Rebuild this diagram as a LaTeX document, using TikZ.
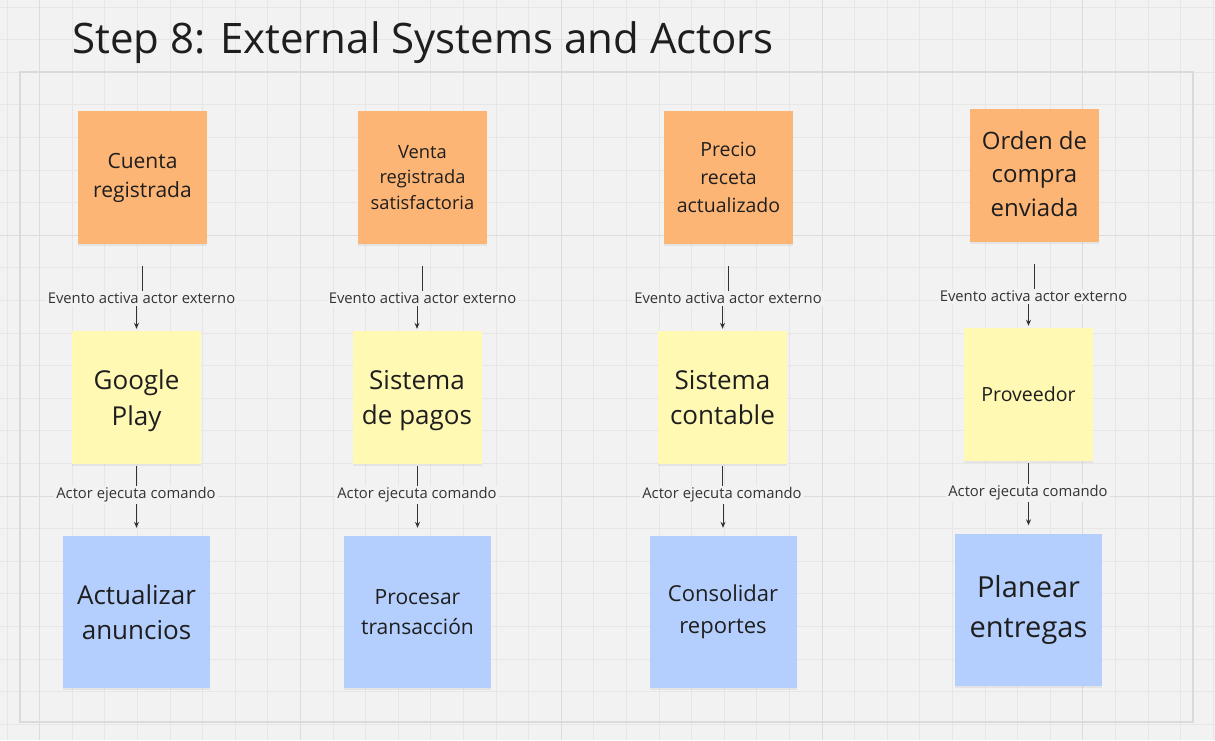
\documentclass[tikz,border=0pt]{standalone}
\usepackage{fontspec}
\setmainfont{Open Sans}
\usetikzlibrary{arrows.meta,shadows}
\pgfdeclarelayer{grid}
\pgfdeclarelayer{links}
\pgfsetlayers{grid,links,main}
\definecolor{bgc}{HTML}{F2F2F2}
\definecolor{minorc}{HTML}{E6E6E6}
\definecolor{majorc}{HTML}{DCDCDC}
\definecolor{framec}{HTML}{DADADA}
\definecolor{orangec}{HTML}{FDB576}
\definecolor{yellowc}{HTML}{FFF9B3}
\definecolor{bluec}{HTML}{B4CFFD}
\definecolor{txtc}{HTML}{1E1E1E}
\definecolor{lblc}{HTML}{333333}
\definecolor{connc}{HTML}{333333}
\newcommand{\fsz}[2]{\fontsize{#1}{#2}\selectfont}
\tikzset{
  note/.style={minimum width=129pt, minimum height=133pt, inner sep=0pt,
    align=center, text=txtc,
    drop shadow={shadow xshift=0pt, shadow yshift=-2pt, opacity=0.12}},
  evt/.style={note, fill=orangec},
  act/.style={note, fill=yellowc},
  cmd/.style={note, fill=bluec, minimum width=147pt, minimum height=152pt},
  lbl/.style={fill=bgc, inner sep=2pt, text=lblc, font=\fsz{14.8}{17}},
  conn/.style={draw=connc, line width=1pt, -{Stealth[length=6pt,width=5pt]}},
  minorline/.style={draw=minorc, line width=0.8pt},
  majorline/.style={draw=majorc, line width=1pt},
  framebox/.style={draw=framec, line width=1.5pt}
}
\begin{document}
\begin{tikzpicture}[x=1pt,y=-1pt]
\useasboundingbox (0,0) rectangle (1215,740);
\begin{pgfonlayer}{grid}
\fill[bgc] (0,0) rectangle (1215,740);
\foreach \k in {0,...,37} { \draw[minorline] ({7+32.6*\k},0) -- ({7+32.6*\k},740); }
\foreach \k in {0,...,22} { \draw[minorline] (0,{7+32.6*\k}) -- (1215,{7+32.6*\k}); }
\foreach \k in {1,9,17,25,33} { \draw[majorline] ({7+32.6*\k},0) -- ({7+32.6*\k},740); }
\foreach \k in {7,15} { \draw[majorline] (0,{7+32.6*\k}) -- (1215,{7+32.6*\k}); }
\draw[framebox] (20,72) rectangle (1193,722);
\end{pgfonlayer}

\node[anchor=base west, inner sep=0pt, text=txtc, font=\fsz{42}{50}] (title) at (72,53) {Step 8: External Systems and Actors};

% events
\node[evt, font=\fsz{21}{29}] (A1) at (142.5,177.5) {Cuenta\\registrada};
\node[evt, font=\fsz{18.3}{25.5}] (A2) at (422.5,177.5) {Venta\\registrada\\satisfactoria};
\node[evt, font=\fsz{19.5}{28}] (A3) at (728.5,177.5) {Precio\\receta\\actualizado};
\node[evt, font=\fsz{24}{33.5}, text depth=4pt] (A4) at (1034.5,175.5) {Orden de\\compra\\enviada};

% actors
\node[act, font=\fsz{26}{35.5}, text depth=0pt] (B1) at (136.5,397.5) {Google\\Play};
\node[act, font=\fsz{26}{35.5}, text depth=0pt] (B2) at (417,397.5) {Sistema\\de pagos};
\node[act, font=\fsz{26}{35.5}] (B3) at (722.5,397.5) {Sistema\\contable};
\node[act, font=\fsz{19.5}{26}] (B4) at (1028.5,394.5) {Proveedor};

% commands
\node[cmd, font=\fsz{26}{35}] (C1) at (136.5,612) {Actualizar\\anuncios};
\node[cmd, font=\fsz{21}{30}] (C2) at (417.5,612) {Procesar\\transacción};
\node[cmd, font=\fsz{22}{32}] (C3) at (723,612) {Consolidar\\reportes};
\node[cmd, font=\fsz{29}{40}] (C4) at (1028.5,609.5) {Planear\\entregas};

% labels
\node[lbl] (L1) at (141.5,298) {Evento activa actor externo};
\node[lbl] (L2) at (422.5,298) {Evento activa actor externo};
\node[lbl] (L3) at (728,298) {Evento activa actor externo};
\node[lbl] (L4) at (1033.5,296) {Evento activa actor externo};
\node[lbl] (M1) at (136,495) {Actor ejecuta comando};
\node[lbl] (M2) at (417,495) {Actor ejecuta comando};
\node[lbl] (M3) at (722,495) {Actor ejecuta comando};
\node[lbl] (M4) at (1028,493) {Actor ejecuta comando};

\begin{pgfonlayer}{links}
\draw[conn] ([yshift=-22pt]A1.south) |- (L1.center) -| ([yshift=2pt]B1.north);
\draw[conn] ([yshift=-22pt]A2.south) |- (L2.center) -| ([yshift=2pt]B2.north);
\draw[conn] ([yshift=-22pt]A3.south) |- (L3.center) -| ([yshift=2pt]B3.north);
\draw[conn] ([yshift=-22pt]A4.south) |- (L4.center) -| ([yshift=2pt]B4.north);
\draw[conn] ([yshift=-2pt]B1.south) |- (M1.center) -| ([yshift=8pt]C1.north);
\draw[conn] ([yshift=-2pt]B2.south) |- (M2.center) -| ([yshift=8pt]C2.north);
\draw[conn] ([yshift=-2pt]B3.south) |- (M3.center) -| ([yshift=8pt]C3.north);
\draw[conn] ([yshift=-2pt]B4.south) |- (M4.center) -| ([yshift=8pt]C4.north);
\end{pgfonlayer}
\end{tikzpicture}
\end{document}
